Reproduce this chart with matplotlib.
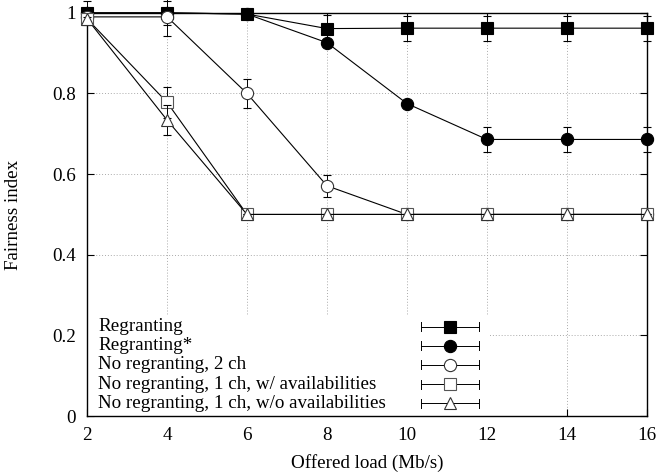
import matplotlib
matplotlib.use("Agg")
import matplotlib.pyplot as plt
from matplotlib.patches import Rectangle
from matplotlib.lines import Line2D

plt.rcParams['font.family'] = ['Liberation Serif', 'DejaVu Serif']

load = [2, 4, 6, 8, 10, 12, 14, 16]

regranting = [1.0, 1.0, 0.997, 0.961, 0.962, 0.962, 0.962, 0.962]
regranting_err = [0.03, 0.03, 0.01, 0.033, 0.031, 0.031, 0.031, 0.031]

regranting_star = [1.0, 1.0, 0.997, 0.926, 0.775, 0.686, 0.686, 0.686]
regranting_star_err = [0.0, 0.0, 0.005, 0.01, 0.005, 0.031, 0.031, 0.031]

noreg_2ch = [0.99, 0.99, 0.80, 0.571, 0.5, 0.5, 0.5, 0.5]
noreg_2ch_err = [0.005, 0.047, 0.035, 0.027, 0.0, 0.0, 0.0, 0.0]

noreg_1ch_w = [0.985, 0.778, 0.5, 0.5, 0.5, 0.5, 0.5, 0.5]
noreg_1ch_w_err = [0.005, 0.038, 0.0, 0.0, 0.0, 0.0, 0.0, 0.0]

noreg_1ch_wo = [0.985, 0.734, 0.5, 0.5, 0.5, 0.5, 0.5, 0.5]
noreg_1ch_wo_err = [0.005, 0.037, 0.0, 0.0, 0.0, 0.0, 0.0, 0.0]

labels = ["Regranting", "Regranting*", "No regranting, 2 ch",
          "No regranting, 1 ch, w/ availabilities",
          "No regranting, 1 ch, w/o availabilities"]

series = [
    (regranting, regranting_err, dict(marker='s', mfc='black', mec='black')),
    (regranting_star, regranting_star_err, dict(marker='o', mfc='black', mec='black')),
    (noreg_2ch, noreg_2ch_err, dict(marker='o', mfc='white', mec='#333333')),
    (noreg_1ch_w, noreg_1ch_w_err, dict(marker='s', mfc='white', mec='#555555')),
    (noreg_1ch_wo, noreg_1ch_wo_err, dict(marker='^', mfc='white', mec='#333333')),
]
msizes = {'s': 8.5, 'o': 8.8, '^': 9.0}
FS = 13.7

fig = plt.figure(figsize=(6.6, 4.76), dpi=100)
ax = fig.add_axes([0.132, 0.126, 0.848, 0.847])

for i, (vals, errs, style) in enumerate(series):
    ax.errorbar(load, vals, yerr=errs, color='black', lw=0.8,
                elinewidth=0.7, capsize=3, capthick=0.7,
                ms=msizes[style['marker']], mew=0.8, zorder=3 + i,
                clip_on=False, **style)

ax.set_xlim(2, 16)
ax.set_ylim(0, 1)
ax.set_xticks(load)
ax.set_yticks([0, 0.2, 0.4, 0.6, 0.8, 1.0])
ax.set_yticklabels(["0", "0.2", "0.4", "0.6", "0.8", "1"])
ax.tick_params(direction='in', length=5, width=0.8, labelsize=FS,
               top=True, right=True, pad=8)
ax.grid(True, color='#aaaaaa', linestyle=(0, (1, 2)), lw=0.7)
ax.set_axisbelow(True)
for s in ax.spines.values():
    s.set_linewidth(1.0)

ax.set_xlabel("Offered load (Mb/s)", fontsize=FS, labelpad=7)
ax.set_ylabel("Fairness index", fontsize=FS, labelpad=22)

# key area: opaque box with text on the left, samples on the right
ax.add_patch(Rectangle((0, 0), 0.72, 0.25, transform=ax.transAxes,
                       facecolor='white', edgecolor='none', zorder=1))
rows = [0.221, 0.174, 0.127, 0.079, 0.032]
for lab, y, (_, _, style) in zip(labels, rows, series):
    ax.text(0.0196, y, lab, transform=ax.transAxes, fontsize=FS,
            va='center', ha='left', zorder=2)
    ax.add_line(Line2D([0.596, 0.700], [y, y], transform=ax.transAxes,
                       color='black', lw=0.7, zorder=2))
    for xe in (0.596, 0.700):
        ax.add_line(Line2D([xe, xe], [y - 0.011, y + 0.011],
                           transform=ax.transAxes, color='black', lw=0.7,
                           zorder=2))
    ax.add_line(Line2D([0.648], [y], transform=ax.transAxes, lw=0,
                       ms=msizes[style['marker']], mew=0.8, zorder=3,
                       **style))

fig.savefig("out.png", dpi=100)
